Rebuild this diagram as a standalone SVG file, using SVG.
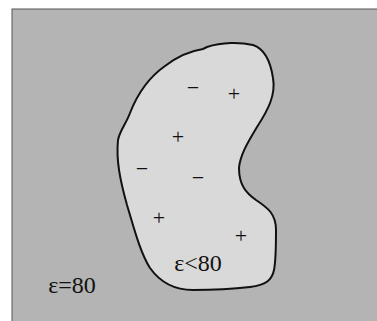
<svg xmlns="http://www.w3.org/2000/svg" width="377" height="321" viewBox="0 0 377 321">
<style>
text{font-family:'Liberation Serif','Times New Roman',serif;fill:#111;text-anchor:middle}
.t{font-size:24px}
.s{font-size:22px}
</style>
<rect width="377" height="321" fill="#ffffff"/>
<rect x="12" y="9" width="370" height="320" fill="#b3b4b3" stroke="#555" stroke-width="1"/>
<g id="region">
<path d="M207,47 C222,42 240,42 253,45 C262,48 270,58 273,78 C276,95 268,110 257,127 C248,142 240,155 239,168 C239,185 246,193 256,200 C268,208 276,214 276,230 C276,245 276,260 274,270 C272,280 266,285 250,287 C233,289 210,290 193,290 C175,290 160,282 150,268 C140,252 134,228 127,205 C120,180 116,160 118,140 C120,130 126,124 130,113 C137,95 148,78 165,66 C178,56 190,51 203,49 Z" fill="#d9d9d9" stroke="#111" stroke-width="2"/>
</g>
<g id="charges">
<text class="s" x="193" y="95">−</text>
<text class="s" x="234" y="101">+</text>
<text class="s" x="178" y="144">+</text>
<text class="s" x="142" y="176">−</text>
<text class="s" x="198" y="185">−</text>
<text class="s" x="159" y="225">+</text>
<text class="s" x="241" y="243">+</text>
</g>
<g id="labels">
<text class="t" x="198" y="271">ε&lt;80</text>
<text class="t" x="72" y="293">ε=80</text>
</g>
</svg>
